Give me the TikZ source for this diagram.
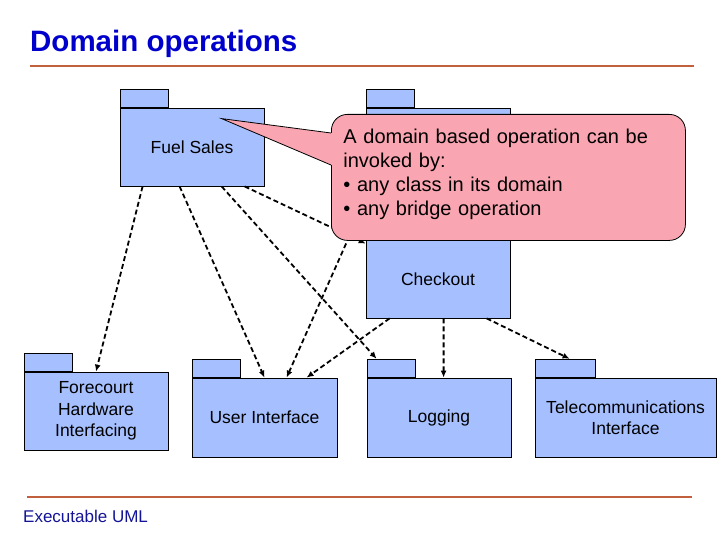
\documentclass[tikz,border=0pt]{standalone}
\usepackage{fontspec}
\setmainfont{Liberation Sans}
\usetikzlibrary{arrows.meta}
\definecolor{pkgblue}{RGB}{166,192,255}
\definecolor{notepink}{RGB}{250,166,178}
\definecolor{rulebrown}{RGB}{192,96,60}
\definecolor{titleblue}{RGB}{0,0,204}
\definecolor{footblue}{RGB}{20,20,150}
\tikzset{
  pkg/.style={draw, fill=pkgblue, line width=0.8bp, minimum width=144bp, minimum height=78bp, inner sep=0pt, align=center, font=\fontsize{17.5bp}{21.5bp}\selectfont},
  tab/.style={draw, fill=pkgblue, line width=0.8bp, minimum width=48bp, minimum height=18bp, inner sep=0pt, anchor=south west},
  dep/.style={-{Latex[length=7bp,width=6bp]}, dash pattern=on 5bp off 3bp, line width=1.8bp},
}
\begin{document}
\begin{tikzpicture}[x=1bp, y=-1bp]
  \useasboundingbox (0,0) rectangle (720,540);
  \node[anchor=base west, inner sep=0pt, text=titleblue, font=\fontsize{29.5bp}{33bp}\selectfont\bfseries] (title) at (30,52) {Domain operations};
  \draw[rulebrown, line width=2.5bp] (30,66) -- (694,66);

  \node[pkg] (fs) at (192,147) {Fuel Sales};
  \node[tab] (fs-tab) at (fs.north west) {};
  \node[pkg, minimum height=210bp] (ck) at (438,213) {};
  \node[tab] (ck-tab) at (ck.north west) {};
  \node[font=\fontsize{17.5bp}{21.5bp}\selectfont] (ck-text) at ([yshift=39bp]ck.south) {Checkout};
  \node[pkg] (fc) at (96,411) {Forecourt\\Hardware\\Interfacing};
  \node[tab] (fc-tab) at (fc.north west) {};
  \node[pkg, minimum width=145bp, minimum height=79bp] (ui) at (264.5,417.5) {User Interface};
  \node[tab] (ui-tab) at (ui.north west) {};
  \node[pkg, minimum height=79bp] (lg) at (439,417.5) {Logging};
  \node[tab] (lg-tab) at (lg.north west) {};
  \node[pkg, minimum width=181bp, minimum height=79bp] (tc) at (625.5,417.5) {Telecommunications\\Interface};
  \node[tab, minimum width=60bp] (tc-tab) at (tc.north west) {};

  \draw[dep] ([xshift=23bp]fs.south west) -- (fc.north);
  \draw[dep] ([xshift=60bp]fs.south west) -- (ui.north);
  \draw[dep] ([xshift=102bp]fs.south west) -- ([xshift=10bp]lg-tab.north west);
  \draw[dep] ([xshift=125bp]fs.south west) -- ([yshift=-136bp]ck.north west);
  \draw[dep] ([yshift=-92bp]ck.north west) -- ([xshift=95bp]ui.north west);
  \draw[dep] ([xshift=24bp]ck.south west) -- ([xshift=115bp]ui.north west);
  \draw[dep] ([xshift=78bp]ck.south west) -- ([xshift=77bp]lg.north west);
  \draw[dep] ([xshift=121bp]ck.south west) -- ([xshift=35bp]tc-tab.north west);

  \node[draw, fill=notepink, rounded corners=16bp, line width=0.8bp, anchor=north west, minimum width=354bp, minimum height=126bp, text width=330bp, inner xsep=12bp, align=left, font=\fontsize{20bp}{24bp}\selectfont] (note) at (331,114) {A domain based operation can be\\invoked by:\\\textbullet{} any class in its domain\\\textbullet{} any bridge operation\rule[-10bp]{0pt}{0pt}};
  \coordinate (tip) at ([xshift=102bp,yshift=-11bp]fs.north west);
  \fill[notepink] (tip) -- ([yshift=-19bp]note.north west) -- ([xshift=4bp,yshift=-19bp]note.north west) -- ([xshift=4bp,yshift=-51bp]note.north west) -- ([yshift=-51bp]note.north west) -- cycle;
  \draw[line width=0.8bp] ([yshift=-19bp]note.north west) -- (tip) -- ([yshift=-51bp]note.north west);

  \draw[rulebrown, line width=2.5bp] (27,497) -- (692,497);
  \node[anchor=base west, inner sep=0pt, text=footblue, font=\fontsize{17bp}{20bp}\selectfont] (footer) at (23,522) {Executable UML};
\end{tikzpicture}
\end{document}
